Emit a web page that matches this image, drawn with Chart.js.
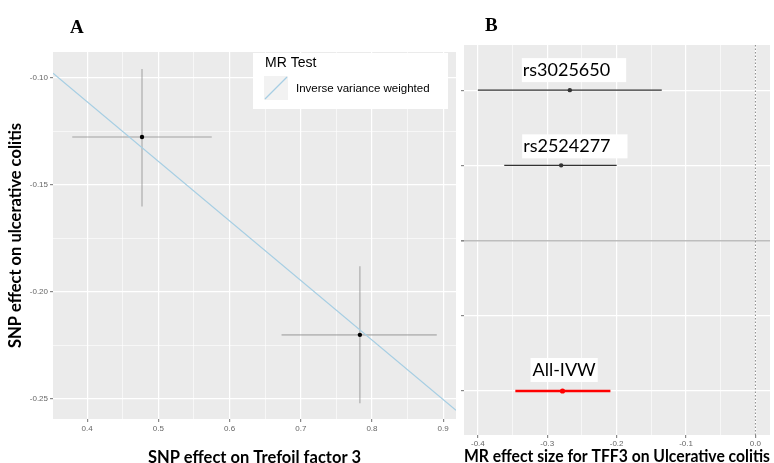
<!DOCTYPE html>
<html><head><meta charset="utf-8">
<script src="https://cdn.jsdelivr.net/npm/chart.js@4.4.1/dist/chart.umd.min.js"></script>
<style>
html,body{margin:0;padding:0;background:#fff;}
#wrap{position:relative;width:774px;height:463px;overflow:hidden;background:#fff;}
canvas{position:absolute;top:0;}
#cA{left:0;} #cB{left:460px;}
.plab{position:absolute;font-family:'Liberation Serif',serif;font-weight:bold;font-size:19px;line-height:19px;color:#000;}
</style></head><body>
<div id="wrap">
<canvas id="cA" width="460" height="463"></canvas>
<canvas id="cB" width="314" height="463"></canvas>
<div class="plab" style="left:70px;top:17px">A</div>
<div class="plab" style="left:485px;top:15px">B</div>
</div>
<script>
// ---------- Panel A data (MR scatter) ----------
const snpNames = ['rs3025650', 'rs2524277'];
const exposureBeta = [0.477, 0.783];
const exposureLo = [0.379, 0.673];
const exposureHi = [0.575, 0.891];
const outcomeBeta = [-0.1276, -0.220];
const outcomeLo = [-0.160, -0.252];
const outcomeHi = [-0.0958, -0.188];
const ivwSlope = -0.278;
const xTicksA = [0.4, 0.5, 0.6, 0.7, 0.8, 0.9];
const xMinorA = [0.45, 0.55, 0.65, 0.75, 0.85];
const yTicksA = [-0.25, -0.20, -0.15, -0.10];
const yMinorA = [-0.225, -0.175, -0.125];
const xRangeA = [0.352, 0.918];
const yRangeA = [-0.2593, -0.0879];
const legendTitle = 'MR Test';
const legendLabel = 'Inverse variance weighted';
const xTitleA = 'SNP effect on Trefoil factor 3';
const yTitleA = 'SNP effect on ulcerative colitis';

// ---------- Panel B data (forest plot) ----------
const forestLabels = ['rs3025650', 'rs2524277', 'All-IVW'];
const forestRows = [5, 4, 1];
const forestEst = [-0.2675, -0.280, -0.278];
const forestLo = [-0.400, -0.362, -0.346];
const forestHi = [-0.135, -0.200, -0.209];
const separatorRow = 3;
const rowTicksB = [1, 2, 3, 4, 5];
const xTicksB = [-0.4, -0.3, -0.2, -0.1, 0.0];
const xMinorB = [-0.35, -0.25, -0.15, -0.05];
const xRangeB = [-0.42, 0.021];
const yRangeB = [0.415, 5.6];
const xTitleB = 'MR effect size for TFF3 on Ulcerative colitis';

// ---------- styles ----------
const forestColors = ['#333333', '#333333', '#ff0000'];
const forestWidths = [1.3, 1.3, 2.4];
const forestPointR = [2.2, 2.2, 2.6];
const labelDx = [-47, -38, -30];
const labelDy = [20, 19, 21];
const boxPadL = [1, 1, 2];
const boxPadR = [16, 17, 2];

function isIn(arr, v) { return arr.some(a => Math.abs(a - v) < 1e-9); }

const panelBg = {
  id: 'panelBg',
  beforeDraw(chart) {
    const { ctx, chartArea: a } = chart;
    ctx.save();
    ctx.fillStyle = '#ebebeb';
    ctx.fillRect(a.left, a.top, a.right - a.left, a.bottom - a.top);
    ctx.restore();
  }
};

const tickFont = { family: 'Liberation Sans', size: 8 };
const titleFont = { family: 'Lato', weight: 'bold', size: 16.5 };

// ---------- Panel A ----------
const legendA = {
  id: 'legendA',
  afterDraw(chart) {
    const { ctx, chartArea: a } = chart;
    const r = a.right - 8, t = a.top + 1, l = r - 195;
    ctx.save();
    ctx.fillStyle = '#ffffff';
    ctx.fillRect(l, t, 195, 56);
    ctx.fillStyle = '#000';
    ctx.textBaseline = 'middle';
    ctx.font = '14px "Liberation Sans"';
    ctx.fillText(legendTitle, l + 12, t + 10);
    ctx.fillStyle = '#f2f2f2';
    ctx.fillRect(l + 11, t + 23, 24, 24);
    ctx.strokeStyle = '#a6cee3';
    ctx.lineWidth = 1.2;
    ctx.beginPath();
    ctx.moveTo(l + 12, t + 46);
    ctx.lineTo(l + 34, t + 24);
    ctx.stroke();
    ctx.fillStyle = '#000';
    ctx.font = '11.5px "Liberation Sans"';
    ctx.fillText(legendLabel, l + 43, t + 36);
    ctx.restore();
  }
};

const errStyle = { showLine: true, borderColor: 'rgba(140,140,140,0.5)', borderWidth: 1.6, pointRadius: 0, fill: false };
const dsA = [];
dsA.push({
  label: legendLabel,
  data: [{ x: xRangeA[0], y: ivwSlope * xRangeA[0] }, { x: xRangeA[1], y: ivwSlope * xRangeA[1] }],
  showLine: true, borderColor: '#a6cee3', borderWidth: 1.2, pointRadius: 0, fill: false
});
dsA.push({
  label: 'SNPs',
  data: exposureBeta.map((x, i) => ({ x: x, y: outcomeBeta[i] })),
  showLine: false, pointRadius: 2.2, pointBackgroundColor: '#000', pointBorderWidth: 0
});
snpNames.forEach((n, i) => {
  dsA.push(Object.assign({ label: n + ' h', data: [{ x: exposureLo[i], y: outcomeBeta[i] }, { x: exposureHi[i], y: outcomeBeta[i] }] }, errStyle));
  dsA.push(Object.assign({ label: n + ' v', data: [{ x: exposureBeta[i], y: outcomeLo[i] }, { x: exposureBeta[i], y: outcomeHi[i] }] }, errStyle));
});

new Chart(document.getElementById('cA'), {
  type: 'scatter',
  data: { datasets: dsA },
  plugins: [panelBg, legendA],
  options: {
    responsive: false, animation: false, devicePixelRatio: 1,
    layout: { padding: { left: 0, top: 52, right: 4, bottom: 0 } },
    plugins: { legend: { display: false }, tooltip: { enabled: false } },
    scales: {
      x: {
        type: 'linear', min: xRangeA[0], max: xRangeA[1],
        afterBuildTicks: s => { s.ticks = xTicksA.concat(xMinorA).sort((a, b) => a - b).map(v => ({ value: v })); },
        afterFit: s => { s.height = 44; },
        ticks: { autoSkip: false, maxRotation: 0, padding: 2, font: tickFont, color: '#666',
          callback: v => isIn(xTicksA, v) ? v.toFixed(1) : '' },
        grid: { color: '#ffffff', lineWidth: c => (c.tick && isIn(xTicksA, c.tick.value)) ? 1.2 : 0.6,
          tickColor: c => (c.tick && isIn(xTicksA, c.tick.value)) ? '#888' : 'rgba(0,0,0,0)', tickLength: 3 },
        border: { display: false },
        title: { display: true, text: xTitleA, font: titleFont, color: '#000', padding: { top: 0, bottom: -5 } }
      },
      y: {
        type: 'linear', min: yRangeA[0], max: yRangeA[1],
        afterBuildTicks: s => { s.ticks = yTicksA.concat(yMinorA).sort((a, b) => a - b).map(v => ({ value: v })); },
        afterFit: s => { s.width = 53; },
        ticks: { autoSkip: false, padding: 2, font: tickFont, color: '#666',
          callback: v => isIn(yTicksA, v) ? v.toFixed(2) : '' },
        grid: { color: '#ffffff', lineWidth: c => (c.tick && isIn(yTicksA, c.tick.value)) ? 1.2 : 0.6,
          tickColor: c => (c.tick && isIn(yTicksA, c.tick.value)) ? '#888' : 'rgba(0,0,0,0)', tickLength: 3 },
        border: { display: false },
        title: { display: true, text: yTitleA, font: titleFont, color: '#000', padding: { top: 6, bottom: 0 } }
      }
    }
  }
});

// ---------- Panel B ----------
const labelsB = {
  id: 'labelsB',
  afterDatasetsDraw(chart) {
    const { ctx } = chart;
    const xs = chart.scales.x, ys = chart.scales.y;
    ctx.save();
    ctx.font = '18px Lato';
    ctx.textBaseline = 'middle';
    forestLabels.forEach((t, i) => {
      const px = xs.getPixelForValue(forestEst[i]) + labelDx[i];
      const py = ys.getPixelForValue(forestRows[i]) - labelDy[i];
      const w = ctx.measureText(t).width;
      ctx.fillStyle = '#ffffff';
      ctx.fillRect(px - boxPadL[i], py - 12, w + boxPadL[i] + boxPadR[i], 24);
      ctx.fillStyle = '#000';
      ctx.fillText(t, px, py);
    });
    ctx.restore();
  }
};

const dsB = [];
forestLabels.forEach((n, i) => {
  dsB.push({
    label: n + ' est',
    data: [{ x: forestEst[i], y: forestRows[i] }],
    showLine: false, pointRadius: forestPointR[i], pointBackgroundColor: forestColors[i], pointBorderWidth: 0
  });
  dsB.push({
    label: n + ' ci',
    data: [{ x: forestLo[i], y: forestRows[i] }, { x: forestHi[i], y: forestRows[i] }],
    showLine: true, borderColor: forestColors[i], borderWidth: forestWidths[i], pointRadius: 0, fill: false
  });
});
dsB.push({
  label: 'null',
  data: [{ x: 0, y: yRangeB[0] }, { x: 0, y: yRangeB[1] }],
  showLine: true, borderColor: '#8a8a8a', borderWidth: 1, borderDash: [1.5, 2], pointRadius: 0, fill: false
});

new Chart(document.getElementById('cB'), {
  type: 'scatter',
  data: { datasets: dsB },
  plugins: [panelBg, labelsB],
  options: {
    responsive: false, animation: false, devicePixelRatio: 1,
    layout: { padding: { left: 0, top: 45, right: 1, bottom: 0 } },
    plugins: { legend: { display: false }, tooltip: { enabled: false } },
    scales: {
      x: {
        type: 'linear', min: xRangeB[0], max: xRangeB[1],
        afterBuildTicks: s => { s.ticks = xTicksB.concat(xMinorB).sort((a, b) => a - b).map(v => ({ value: v })); },
        afterFit: s => { s.height = 28; },
        ticks: { autoSkip: false, maxRotation: 0, padding: 1, font: tickFont, color: '#666',
          callback: v => isIn(xTicksB, v) ? v.toFixed(1) : '' },
        grid: { color: '#ffffff', lineWidth: c => (c.tick && isIn(xTicksB, c.tick.value)) ? 1.2 : 0.6,
          tickColor: c => (c.tick && isIn(xTicksB, c.tick.value)) ? '#888' : 'rgba(0,0,0,0)', tickLength: 3 },
        border: { display: false },
        title: { display: true, text: xTitleB, font: titleFont, color: '#000', padding: { top: 0, bottom: -3.5 } }
      },
      y: {
        type: 'linear', min: yRangeB[0], max: yRangeB[1],
        afterBuildTicks: s => { s.ticks = rowTicksB.map(v => ({ value: v })); },
        afterFit: s => { s.width = 3; },
        ticks: { display: false },
        grid: { color: c => (c.tick && c.tick.value === separatorRow) ? '#bdbdbd' : '#ffffff',
          lineWidth: c => (c.tick && c.tick.value === separatorRow) ? 1.6 : 1.2,
          tickColor: '#888', tickLength: 3 },
        border: { display: false }
      }
    }
  }
});
</script>
</body></html>
